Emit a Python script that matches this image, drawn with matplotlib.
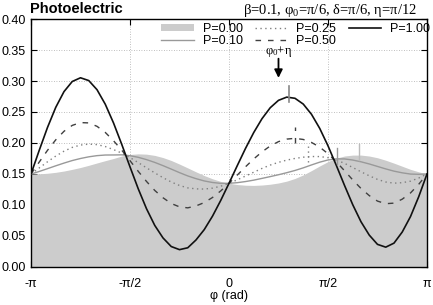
import numpy as np
import matplotlib
matplotlib.use('Agg')
import matplotlib.pyplot as plt
from matplotlib.patches import Patch
from matplotlib.lines import Line2D

# sample grid, pi/24 steps from -pi to pi
phi = np.linspace(-np.pi, np.pi, 49)

p000 = [0.1500, 0.1503, 0.1512, 0.1527, 0.1548, 0.1575, 0.1605, 0.1640, 0.1678, 0.1715,
        0.1750, 0.1790, 0.1815, 0.1825, 0.1820, 0.1800, 0.1765, 0.1718, 0.1660, 0.1598,
        0.1535, 0.1475, 0.1423, 0.1380, 0.1350, 0.1330, 0.1319, 0.1316, 0.1322, 0.1335,
        0.1355, 0.1385, 0.1428, 0.1485, 0.1555, 0.1630, 0.1700, 0.1755, 0.1790, 0.1805,
        0.1805, 0.1790, 0.1762, 0.1722, 0.1675, 0.1625, 0.1575, 0.1535, 0.1500]
p010 = [0.1500, 0.1541, 0.1586, 0.1632, 0.1676, 0.1717, 0.1750, 0.1777, 0.1796, 0.1806,
        0.1807, 0.1809, 0.1795, 0.1769, 0.1732, 0.1687, 0.1635, 0.1579, 0.1522, 0.1469,
        0.1425, 0.1388, 0.1363, 0.1349, 0.1350, 0.1360, 0.1378, 0.1401, 0.1429, 0.1458,
        0.1488, 0.1521, 0.1557, 0.1599, 0.1646, 0.1691, 0.1726, 0.1744, 0.1743, 0.1725,
        0.1697, 0.1662, 0.1622, 0.1582, 0.1546, 0.1519, 0.1499, 0.1495, 0.1500]
p025 = [0.1500, 0.1598, 0.1697, 0.1789, 0.1868, 0.1929, 0.1967, 0.1982, 0.1974, 0.1943,
        0.1894, 0.1837, 0.1765, 0.1684, 0.1600, 0.1518, 0.1441, 0.1371, 0.1315, 0.1276,
        0.1260, 0.1257, 0.1272, 0.1303, 0.1350, 0.1406, 0.1467, 0.1529, 0.1590, 0.1644,
        0.1688, 0.1724, 0.1751, 0.1771, 0.1782, 0.1781, 0.1764, 0.1727, 0.1672, 0.1605,
        0.1536, 0.1471, 0.1413, 0.1371, 0.1352, 0.1360, 0.1384, 0.1435, 0.1500]
p050 = [0.1500, 0.1693, 0.1882, 0.2051, 0.2189, 0.2284, 0.2329, 0.2324, 0.2269, 0.2171,
        0.2037, 0.1884, 0.1715, 0.1543, 0.1380, 0.1235, 0.1117, 0.1024, 0.0970, 0.0954,
        0.0985, 0.1039, 0.1121, 0.1227, 0.1350, 0.1482, 0.1616, 0.1743, 0.1857, 0.1952,
        0.2022, 0.2063, 0.2075, 0.2057, 0.2009, 0.1933, 0.1828, 0.1698, 0.1553, 0.1405,
        0.1267, 0.1152, 0.1063, 0.1021, 0.1030, 0.1094, 0.1194, 0.1334, 0.1500]
p100 = [0.1500, 0.1883, 0.2251, 0.2575, 0.2829, 0.2992, 0.3052, 0.3007, 0.2860, 0.2626,
        0.2324, 0.1978, 0.1615, 0.1261, 0.0940, 0.0671, 0.0469, 0.0330, 0.0280, 0.0310,
        0.0436, 0.0603, 0.0820, 0.1074, 0.1350, 0.1634, 0.1912, 0.2169, 0.2392, 0.2569,
        0.2688, 0.2740, 0.2721, 0.2628, 0.2463, 0.2235, 0.1955, 0.1642, 0.1317, 0.1005,
        0.0730, 0.0515, 0.0365, 0.0320, 0.0385, 0.0564, 0.0813, 0.1134, 0.1500]

# where the small peak markers sit
peak_phi = [2.07, 1.71, 1.26, 1.04, 0.945]

xticks = [-np.pi, -np.pi/2, 0, np.pi/2, np.pi]
xlabels = ['-\u03c0', '-\u03c0/2', '0', '\u03c0/2', '\u03c0']

plt.rcParams['font.family'] = ['Liberation Sans', 'DejaVu Sans']
plt.rcParams['mathtext.fontset'] = 'custom'
plt.rcParams['mathtext.rm'] = 'Liberation Serif'
plt.rcParams['mathtext.it'] = 'Liberation Serif:italic'

fig = plt.figure(figsize=(4.33, 3.05), dpi=100)
ax = fig.add_axes([0.0716, 0.1246, 0.9145, 0.8131])

styles = [
    dict(color='#999999', lw=1.0, ls='-'),
    dict(color='#808080', lw=1.0, ls=(0, (1, 2.5))),
    dict(color='#404040', lw=1.0, ls=(0, (4, 5))),
    dict(color='#111111', lw=1.2, ls='-'),
]

ax.fill_between(phi, 0, p000, color='#cccccc', lw=0, zorder=1)
ax.plot(phi, p010, zorder=3, **styles[0])
ax.plot(phi, p025, zorder=3, **styles[1])
ax.plot(phi, p050, zorder=3, **styles[2])
ax.plot(phi, p100, zorder=3, **styles[3])

# peak markers
series = [p000, p010, p025, p050, p100]
mk_styles = [dict(color='#bbbbbb', lw=1.0, ls='-')] + styles[:3] + [dict(color='#888888', lw=1.2, ls='-')]
for ph, s, st in zip(peak_phi, series, mk_styles):
    yv = np.interp(ph, phi, s)
    ax.plot([ph, ph], [yv - 0.008, yv + 0.018], zorder=4, **st)

# phi0 + eta arrow
ax.annotate('', xy=(np.pi/4, 0.305), xytext=(np.pi/4, 0.336),
            arrowprops=dict(arrowstyle='-|>', color='black', lw=1.3, mutation_scale=12,
                            shrinkA=0, shrinkB=0),
            zorder=5)
ax.text(np.pi/4, 0.335, '$\\mathrm{\\varphi_0}$+\u03b7', ha='center', va='bottom',
        fontsize=9, family=['Liberation Serif', 'DejaVu Serif'])

ax.set_xlim(-np.pi, np.pi)
ax.set_ylim(0, 0.4)
ax.set_xticks(xticks)
ax.set_xticklabels(xlabels)
ax.set_yticks(np.arange(0, 0.401, 0.05))
ax.set_yticklabels(['%.2f' % v for v in np.arange(0, 0.401, 0.05)])
ax.tick_params(direction='in', length=4, top=True, right=True, labelsize=9)
ax.tick_params(axis='x', pad=8)
ax.tick_params(axis='y', pad=4)
ax.set_axisbelow(True)
ax.grid(True, ls=(0, (1, 2)), color='#aaaaaa', lw=0.6)
for sp in ax.spines.values():
    sp.set_linewidth(1.0)
ax.set_xlabel('\u03c6 (rad)', fontsize=9, labelpad=0)

handles = [Patch(facecolor='#cccccc', edgecolor='none'),
           Line2D([], [], **styles[0]),
           Line2D([], [], **styles[1]),
           Line2D([], [], **styles[2]),
           Line2D([], [], **styles[3])]
labels = ['P=0.00', 'P=0.10', 'P=0.25', 'P=0.50', 'P=1.00']
ax.legend(handles, labels, ncol=3, loc='upper left', bbox_to_anchor=(0.31, 1.015),
          frameon=False, fontsize=9, handlelength=2.6, handleheight=0.5,
          handletextpad=0.7, columnspacing=1.0, labelspacing=0.0, borderaxespad=0.2)

fig.text(0.07, 0.995, 'Photoelectric', fontweight='bold', fontsize=10.5, va='top', ha='left')
fig.text(0.963, 0.995,
         '\u03b2=0.1, $\\mathrm{\\varphi_0}$=\u03c0/6, \u03b4=\u03c0/6, \u03b7=\u03c0/12',
         fontsize=10.5, va='top', ha='right', family=['Liberation Serif', 'DejaVu Serif'])

fig.savefig('out.png', dpi=100)
